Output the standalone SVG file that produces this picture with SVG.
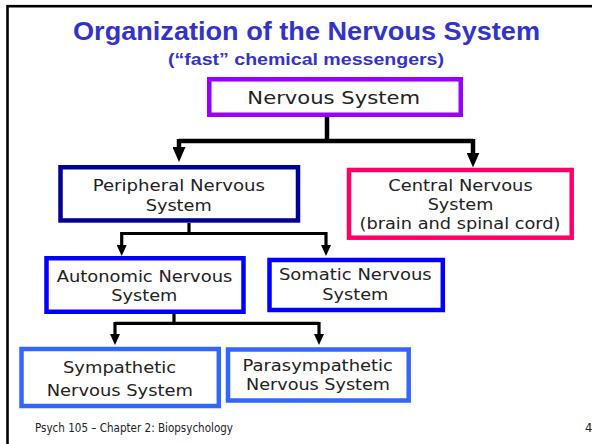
<svg xmlns="http://www.w3.org/2000/svg" width="592" height="444" viewBox="0 0 592 444">
<style>
.box{fill:#fff;stroke-width:4.5}
.t{font-family:"DejaVu Sans","Liberation Sans",sans-serif;font-size:16px;fill:#222;text-anchor:middle}
.big{font-size:18px}
.title{font-family:"Liberation Sans",Arial,sans-serif;font-weight:bold;fill:#3333CC;text-anchor:middle}
.c1{fill:none;stroke:#000;stroke-width:4.5}
.c2{fill:none;stroke:#000;stroke-width:3.2}
.foot{font-family:"DejaVu Sans","Liberation Sans",sans-serif;font-size:11.5px;fill:#222}
</style>
<defs>
<marker id="ah1" markerUnits="userSpaceOnUse" viewBox="0 0 15 13" markerWidth="15" markerHeight="13" refX="5" refY="6.5" orient="auto">
<path d="M0,0 L15,6.5 L0,13 z" fill="#000"/>
</marker>
<marker id="ah2" markerUnits="userSpaceOnUse" viewBox="0 0 11 10" markerWidth="11" markerHeight="10" refX="4" refY="5" orient="auto">
<path d="M0,0 L11,5 L0,10 z" fill="#000"/>
</marker>
</defs>
<rect x="7.5" y="6.2" width="600" height="450" fill="#fff" stroke="#000" stroke-width="2.6"/>
<text class="title" x="306.5" y="39.5" font-size="25" textLength="467" lengthAdjust="spacingAndGlyphs">Organization of the Nervous System</text>
<text class="title" x="306" y="64.5" font-size="16" textLength="276" lengthAdjust="spacingAndGlyphs">(“fast” chemical messengers)</text>
<g id="connectors">
<path class="c1" d="M327,117 V141"/>
<path class="c1" d="M179,141 H473"/>
<path class="c1" d="M179,139 V152" marker-end="url(#ah1)"/>
<path class="c1" d="M473,139 V157.5" marker-end="url(#ah1)"/>
<path class="c2" d="M189,223 V233.5"/>
<path class="c2" d="M121.7,233.5 H326"/>
<path class="c2" d="M121.7,232 V249" marker-end="url(#ah2)"/>
<path class="c2" d="M326,232 V249" marker-end="url(#ah2)"/>
<path class="c2" d="M174,314 V323.3"/>
<path class="c2" d="M115,323.3 H319"/>
<path class="c2" d="M115,322 V338" marker-end="url(#ah2)"/>
<path class="c2" d="M319,322 V338" marker-end="url(#ah2)"/>
</g>
<g id="nervous-system">
<rect class="box" x="209.25" y="79.25" width="251.5" height="35.5" stroke="#9900FF"/>
<text class="t big" x="333.7" y="104" textLength="172.7" lengthAdjust="spacingAndGlyphs">Nervous System</text>
</g>
<g id="peripheral">
<rect class="box" x="60.5" y="167.25" width="237.5" height="53.2" stroke="#000099"/>
<text class="t" x="178.8" y="191" textLength="172.3" lengthAdjust="spacingAndGlyphs">Peripheral Nervous</text>
<text class="t" x="178.7" y="211" textLength="66" lengthAdjust="spacingAndGlyphs">System</text>
</g>
<g id="central">
<rect class="box" x="349" y="170" width="222.7" height="67.7" stroke="#FF0066"/>
<text class="t" x="460.5" y="191" textLength="144.4" lengthAdjust="spacingAndGlyphs">Central Nervous</text>
<text class="t" x="460.5" y="210" textLength="65.6" lengthAdjust="spacingAndGlyphs">System</text>
<text class="t" x="460" y="228.5" textLength="201" lengthAdjust="spacingAndGlyphs">(brain and spinal cord)</text>
</g>
<g id="autonomic">
<rect class="box" x="46.5" y="258.25" width="197" height="53.5" stroke="#0000FF"/>
<text class="t" x="144.5" y="281.7" textLength="175.6" lengthAdjust="spacingAndGlyphs">Autonomic Nervous</text>
<text class="t" x="144.3" y="300.5" textLength="66" lengthAdjust="spacingAndGlyphs">System</text>
</g>
<g id="somatic">
<rect class="box" x="269.5" y="260" width="173.3" height="50" stroke="#0000FF"/>
<text class="t" x="355.3" y="280" textLength="152.7" lengthAdjust="spacingAndGlyphs">Somatic Nervous</text>
<text class="t" x="355.3" y="299.5" textLength="66" lengthAdjust="spacingAndGlyphs">System</text>
</g>
<g id="sympathetic">
<rect class="box" x="21.5" y="349" width="197.3" height="57" stroke="#3366FF"/>
<text class="t" x="119.5" y="372.5" textLength="113" lengthAdjust="spacingAndGlyphs">Sympathetic</text>
<text class="t" x="119.8" y="395.5" textLength="146.3" lengthAdjust="spacingAndGlyphs">Nervous System</text>
</g>
<g id="parasympathetic">
<rect class="box" x="228" y="349.5" width="180.7" height="51" stroke="#3366FF"/>
<text class="t" x="317.7" y="371" textLength="150.4" lengthAdjust="spacingAndGlyphs">Parasympathetic</text>
<text class="t" x="318" y="390" textLength="144" lengthAdjust="spacingAndGlyphs">Nervous System</text>
</g>
<text class="foot" x="35" y="431.7" textLength="198" lengthAdjust="spacingAndGlyphs">Psych 105 – Chapter 2: Biopsychology</text>
<text class="foot" x="585" y="431.7">4</text>
</svg>
